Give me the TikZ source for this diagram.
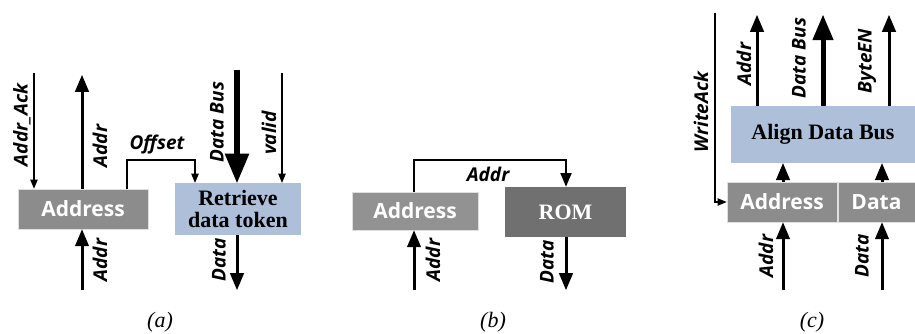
\documentclass[tikz,border=0pt]{standalone}
\usepackage{fontspec}
\setmainfont{Liberation Serif}
\newfontfamily\lblfont{Open Sans}
\usetikzlibrary{arrows}
\definecolor{boxgray}{rgb}{0.55,0.55,0.55}
\definecolor{romgray}{rgb}{0.44,0.44,0.44}
\definecolor{alignblue}{rgb}{0.68,0.75,0.85}
\tikzset{
  graybox/.style={fill=boxgray,draw=white!75!gray,line width=0.8pt,text=white,font=\lblfont\bfseries\fontsize{21}{21}\selectfont,inner sep=0pt},
  bluebox/.style={fill=alignblue,font=\bfseries\fontsize{22}{22}\selectfont,align=center,inner sep=0pt},
  lbl/.style={font=\lblfont\bfseries\itshape\fontsize{19}{19}\selectfont,inner sep=0pt},
  vlbl/.style={lbl,rotate=90},
  wire/.style={line width=3pt},
  thinwire/.style={line width=1.1pt},
  buswire/.style={line width=6pt}
}
\begin{document}
\begin{tikzpicture}[line cap=butt,line join=miter,>=triangle 45,x=1pt,y=1pt]
\useasboundingbox (0,0) rectangle (915,333);
% (a)
\node[graybox,minimum width=130,minimum height=40] (addrA) at (83,124) {Address};
\node[bluebox,minimum width=126,minimum height=52] (retA) at (238,124) {Retrieve\\data token};
\coordinate (ackA) at (34,260);
\coordinate (addroutA) at (82,258);
\coordinate (addrinA) at (82,43);
\coordinate (busA) at (237,263);
\coordinate (validA) at (282,260);
\coordinate (dataoutA) at (237,43);
\draw [->,thinwire] (ackA) -- (ackA |- addrA.north);
\draw [->,wire] (addroutA |- addrA.north) -- (addroutA);
\draw [->,wire] (addrinA) -- (addrinA |- addrA.south);
\draw [->,thinwire] (127,0 |- addrA.north) -- (127,173) -- (195,173) -- (195,0 |- retA.north);
\draw [->,buswire] (busA) -- (busA |- retA.north);
\draw [->,thinwire] (validA) -- (validA |- retA.north);
\draw [->,wire] (dataoutA |- retA.south) -- (dataoutA);
\node[vlbl] (ackAlbl) at (22,208) {Addr\_Ack};
\node[vlbl] (addroutAlbl) at (100,187) {Addr};
\node[vlbl] (addrinAlbl) at (100,73) {Addr};
\node[lbl] (offAlbl) at (157,188) {Offset};
\node[vlbl] (busAlbl) at (217,211) {Data Bus};
\node[vlbl] (validAlbl) at (269,200) {valid};
\node[vlbl] (dataAlbl) at (219,73) {Data};
% (b)
\node[graybox,fill=boxgray!95!white,minimum width=126,minimum height=38] (addrB) at (415,122) {Address};
\node[graybox,fill=romgray,draw=none,font=\bfseries\fontsize{22}{22}\selectfont,minimum width=121,minimum height=50] (romB) at (565.5,121) {ROM};
\coordinate (addrinB) at (414,43);
\coordinate (dataoutB) at (566,43);
\draw [->,wire] (addrinB) -- (addrinB |- addrB.south);
\draw [->,wire,line width=2.2pt] (414,0 |- addrB.north) -- (414,173) -- (566,173) -- (566,0 |- romB.north);
\draw [->,wire] (dataoutB |- romB.south) -- (dataoutB);
\node[lbl] (addrBlbl) at (488,159) {Addr};
\node[vlbl] (addrinBlbl) at (433,73) {Addr};
\node[vlbl] (dataBlbl) at (547,71) {Data};
% (c)
\node[bluebox,minimum width=184,minimum height=57] (alignC) at (823,198.5) {Align Data Bus};
\node[graybox,minimum width=110,minimum height=40] (addrC) at (782,131) {Address};
\node[graybox,minimum width=77,minimum height=40] (dataC) at (876.5,131) {Data};
\coordinate (ackC) at (715,320);
\coordinate (addroutC) at (757,318);
\coordinate (busC) at (823,318);
\coordinate (byteC) at (889,318);
\coordinate (addrinC) at (783,43);
\coordinate (datainC) at (882,43);
\draw [->,thinwire] (ackC) -- (ackC |- addrC.west) -- (addrC.west);
\draw [->,wire] (addroutC |- alignC.north) -- (addroutC);
\draw [->,wire,line width=5pt] (busC |- alignC.north) -- (busC);
\draw [->,wire] (byteC |- alignC.north) -- (byteC);
\draw [->,wire] (addrinC |- addrC.north) -- (addrinC |- alignC.south);
\draw [->,wire] (datainC |- dataC.north) -- (datainC |- alignC.south);
\draw [->,wire] (addrinC) -- (addrinC |- addrC.south);
\draw [->,wire] (datainC) -- (datainC |- dataC.south);
\node[vlbl] (ackClbl) at (701,221) {WriteAck};
\node[vlbl] (addroutClbl) at (744,269) {Addr};
\node[vlbl] (busClbl) at (799,275) {Data Bus};
\node[vlbl] (byteClbl) at (867,272) {ByteEN};
\node[vlbl] (addrinClbl) at (766,77) {Addr};
\node[vlbl] (datainClbl) at (862,77) {Data};
% captions
\node[font=\itshape\fontsize{22}{22}\selectfont] (capA) at (160,11) {(a)};
\node[font=\itshape\fontsize{22}{22}\selectfont] (capB) at (493,11) {(b)};
\node[font=\itshape\fontsize{22}{22}\selectfont] (capC) at (812,11) {(c)};
\end{tikzpicture}
\end{document}
